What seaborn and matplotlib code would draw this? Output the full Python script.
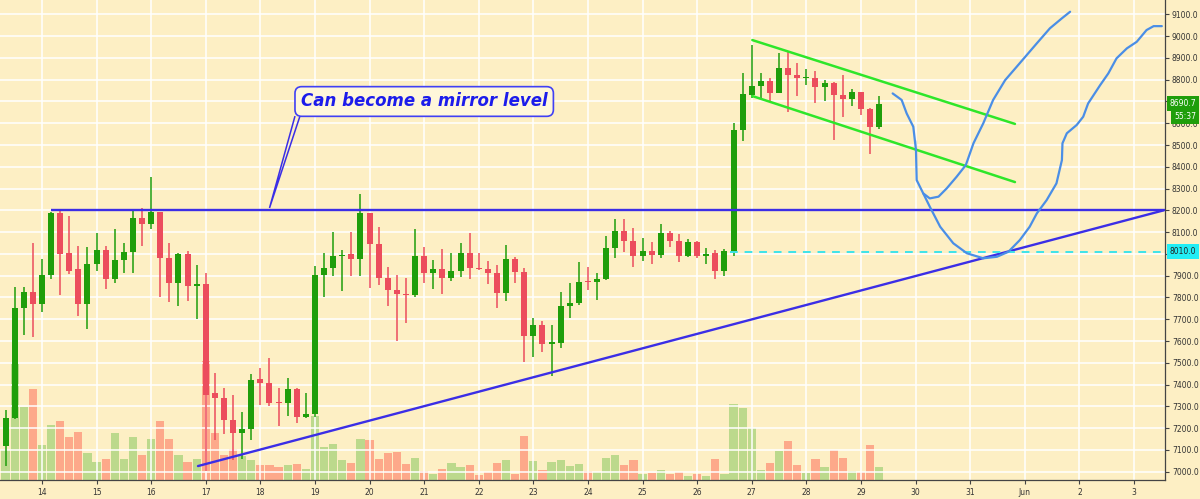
import numpy as np
import pandas as pd
import matplotlib
matplotlib.use('Agg')
import matplotlib.pyplot as plt
import matplotlib.dates as mdates
from matplotlib.patches import Polygon
from matplotlib.transforms import blended_transform_factory
import seaborn as sns

# BTC 4h candles, 13 May 2019 08:00 -> 29 May 2019 08:00
first_candle = '2019-05-13 08:00'
opens = [7118, 7245, 7750, 7825, 7770, 7903, 8189, 8003, 7929, 7770,
         7954, 8018, 7883, 7972, 8009, 8166, 8136, 8191, 7982, 7865,
         7998, 7852, 7862, 7360, 7340, 7237, 7179, 7195, 7424, 7409,
         7320, 7317, 7381, 7252, 7264, 7903, 7934, 7990, 7998, 7975,
         8189, 8045, 7888, 7834, 7816, 7812, 7990, 7914, 7932, 7888,
         7921, 8005, 7935, 7930, 7913, 7819, 7976, 7918, 7623, 7673,
         7585, 7592, 7761, 7773, 7877, 7872, 7885, 8026, 8105, 8059,
         7992, 8012, 7995, 8095, 8060, 7992, 8056, 7992, 8003, 7923,
         8010, 8569, 8729, 8771, 8794, 8740, 8852, 8821, 8806, 8810,
         8765, 8783, 8728, 8711, 8742, 8664, 8584]
highs = [7283, 7849, 7849, 8051, 7975, 8192, 8195, 8174, 8036, 8033,
         8097, 8038, 8114, 8051, 8202, 8212, 8352, 8194, 8051, 8003,
         8015, 7949, 7911, 7454, 7383, 7352, 7273, 7447, 7475, 7521,
         7383, 7429, 7386, 7363, 7944, 8003, 8102, 8018, 8102, 8274,
         8190, 8122, 7941, 7903, 7888, 8113, 8033, 7972, 8021, 8003,
         8049, 8097, 8003, 7968, 7949, 8041, 7985, 7934, 7704, 7691,
         7673, 7824, 7865, 7961, 7941, 7911, 8082, 8159, 8160, 8120,
         8072, 8056, 8137, 8105, 8091, 8069, 8060, 8026, 8018, 8021,
         8602, 8829, 8959, 8832, 8806, 8924, 8933, 8875, 8847, 8841,
         8798, 8790, 8821, 8756, 8745, 8671, 8726]
lows = [7026, 7240, 7627, 7617, 7735, 7885, 7811, 7908, 7715, 7654,
        7923, 7837, 7868, 7914, 7914, 8036, 8114, 7803, 7780, 7761,
        7785, 7701, 7005, 7145, 7173, 7054, 7057, 7145, 7306, 7302,
        7210, 7256, 7222, 7245, 7250, 7803, 7900, 7831, 7898, 7900,
        7842, 7857, 7761, 7601, 7681, 7803, 7868, 7837, 7816, 7877,
        7895, 7885, 7925, 7862, 7753, 7785, 7868, 7505, 7528, 7551,
        7439, 7566, 7704, 7765, 7834, 7789, 7880, 7980, 8007, 7938,
        7968, 7952, 7980, 8030, 7964, 7988, 7982, 7954, 7883, 7900,
        7992, 8520, 8714, 8710, 8699, 8737, 8653, 8725, 8775, 8691,
        8703, 8523, 8630, 8679, 8638, 8459, 8573]
closes = [7248, 7753, 7825, 7770, 7903, 8189, 8001, 7923, 7770, 7954,
          8018, 7883, 7972, 8009, 8166, 8136, 8191, 7982, 7865, 7998,
          7852, 7860, 7352, 7340, 7237, 7179, 7195, 7421, 7409, 7317,
          7315, 7381, 7252, 7264, 7903, 7934, 7992, 7997, 7975, 8189,
          8045, 7888, 7834, 7814, 7812, 7990, 7914, 7932, 7888, 7921,
          8005, 7934, 7930, 7913, 7819, 7976, 7918, 7623, 7673, 7585,
          7595, 7761, 7773, 7872, 7872, 7885, 8026, 8105, 8059, 7992,
          8012, 7995, 8095, 8061, 7992, 8056, 7992, 8000, 7923, 8014,
          8569, 8733, 8771, 8794, 8740, 8852, 8821, 8806, 8811, 8765,
          8783, 8728, 8711, 8742, 8664, 8584, 8690.7]
volumes = [3000, 11600, 7300, 9100, 3500, 5500, 5900, 4300, 4800, 2700,
           1800, 2100, 4700, 2100, 4300, 2500, 4100, 5900, 4100, 2500,
           1800, 2100, 11900, 4700, 2500, 3100, 2400, 2000, 1500, 1500,
           1300, 1500, 1600, 1100, 6400, 3300, 3600, 2000, 1700, 4100,
           4000, 2100, 2700, 2800, 1600, 2200, 900, 600, 1100, 1700,
           1300, 1500, 500, 800, 1700, 2000, 600, 4400, 1900, 1000,
           1800, 2000, 1400, 1600, 900, 800, 2200, 2500, 1500, 2000,
           600, 700, 1000, 600, 800, 400, 600, 400, 2100, 600,
           7600, 7200, 5200, 1000, 1700, 2900, 3900, 1500, 700, 2100,
           1300, 3000, 2200, 900, 800, 3500, 1300]

# drawings (days counted from 14 May 2019 00:00)
mirror_level = 8200.0
mirror_from_day = 0.165
support_days = [2.857, 20.54]
support_prices = [7026, 8200]
channel_days = [13.01, 17.82]
channel_upper = [8982, 8597]
channel_lower = [8725, 8330]
breakout_level = 8010.0
breakout_from_day = 12.6
path_a_days = [15.58, 15.745, 15.837, 15.958, 16.007, 16.007, 16.02, 16.14, 16.26,
               16.42, 16.57, 16.75, 16.92, 17.06, 17.24, 17.42, 17.64, 17.85,
               18.22, 18.46, 18.68, 18.83]
path_a_prices = [8737, 8707, 8645, 8584, 8523, 8431, 8339, 8278, 8255,
                 8263, 8301, 8354, 8408, 8508, 8600, 8707, 8798, 8859,
                 8967, 9036, 9082, 9112]
path_b_days = [16.14, 16.26, 16.45, 16.69, 16.94, 17.24, 17.49, 17.70, 17.91,
               18.09, 18.22, 18.40, 18.58, 18.68, 18.69, 18.77, 18.95, 19.07,
               19.16, 19.38, 19.53, 19.68, 19.87, 20.05, 20.23, 20.36, 20.51]
path_b_prices = [8278, 8217, 8125, 8049, 8003, 7980, 7987, 8010, 8064,
                 8125, 8186, 8247, 8324, 8431, 8508, 8554, 8592, 8630,
                 8691, 8775, 8829, 8898, 8944, 8974, 9028, 9046, 9046]
callout_text = 'Can become a mirror level'
callout_day, callout_price = 7.0, 8700
pointer_days = [4.634, 4.167, 4.725]
pointer_prices = [8633, 8211, 8633]

day_ticks = pd.date_range('2019-05-14', '2019-06-03', freq='D')
day_labels = ['14', '15', '16', '17', '18', '19', '20', '21', '22', '23', '24',
              '25', '26', '27', '28', '29', '30', '31', 'Jun', '2', '3']
price_ticks = np.arange(7000, 9101, 100)
hidden_ticks = [8000, 8700]  # covered by the price boxes
last_price = 8690.7
countdown = '55:37'

bg = '#fdefc4'
up_col = '#1f9e0b'
down_col = '#ec4d5d'
up_vol = '#bcd98c'
down_vol = '#fda98a'
blue = '#3b2ee6'

sns.set_style('whitegrid', {'axes.facecolor': bg, 'grid.color': 'white'})

fig = plt.figure(figsize=(12, 4.99), dpi=100)
fig.patch.set_facecolor(bg)
ax = fig.add_axes([0, 19 / 499, 1165 / 1200, 480 / 499])
ax_vol = ax.twinx()
ax.set_zorder(2)
ax_vol.set_zorder(1)
ax.patch.set_visible(False)
ax_vol.set_facecolor(bg)

t0 = mdates.date2num(pd.Timestamp('2019-05-14'))
times = mdates.date2num(pd.date_range(first_candle, periods=len(opens), freq='4h'))
o = np.array(opens, dtype=float)
c = np.array(closes, dtype=float)
h = np.array(highs, dtype=float)
l = np.array(lows, dtype=float)
up = c >= o

# volume pane
ax_vol.bar(times, volumes, width=0.15, color=np.where(up, up_vol, down_vol), linewidth=0)
ax_vol.set_ylim(0, 48000)
ax_vol.yaxis.set_visible(False)
ax_vol.grid(False)
for s in ax_vol.spines.values():
    s.set_visible(False)

# candles
cols = np.where(up, up_col, down_col)
ax.vlines(times, l, h, colors=cols, linewidth=1.1, zorder=3)
body = np.maximum(np.abs(c - o), 5)
ax.bar(times, body, bottom=np.minimum(o, c), width=0.11, color=cols, linewidth=0, zorder=4)

# drawings
ax.hlines(mirror_level, t0 + mirror_from_day, t0 + 20.6, color=blue, linewidth=1.7, zorder=5)
sns.lineplot(x=t0 + np.array(support_days), y=support_prices, ax=ax, color=blue,
             linewidth=1.7, zorder=5)
sns.lineplot(x=t0 + np.array(channel_days), y=channel_upper, ax=ax, color='#2ee62a',
             linewidth=1.8, zorder=5)
sns.lineplot(x=t0 + np.array(channel_days), y=channel_lower, ax=ax, color='#2ee62a',
             linewidth=1.8, zorder=5)
ax.hlines(breakout_level, t0 + breakout_from_day, t0 + 20.6, color='#3de3e8',
          linewidth=1.4, linestyles=(0, (4, 3.5)), zorder=5)
sns.lineplot(x=t0 + np.array(path_a_days), y=path_a_prices, ax=ax, sort=False,
             color='#4a8ee6', linewidth=1.6, zorder=6)
sns.lineplot(x=t0 + np.array(path_b_days), y=path_b_prices, ax=ax, sort=False,
             color='#4a8ee6', linewidth=1.6, zorder=6)

# callout
ax.add_patch(Polygon(np.column_stack([t0 + np.array(pointer_days), pointer_prices]),
                     closed=False, fill=False, edgecolor=blue, linewidth=1.1, zorder=7))
ax.text(t0 + callout_day, callout_price, callout_text, ha='center', va='center',
        fontsize=12, fontweight='bold', fontstyle='italic', color='#1c1ceb', zorder=8,
        bbox=dict(boxstyle='round,pad=0.35,rounding_size=0.4', fc='#fff7da',
                  ec='#4040f5', lw=1.2))

# axes
ax.set_xlim(t0 - 0.769, t0 + 20.568)
ax.set_ylim(6962, 9166)
ax.set_xticks(mdates.date2num(day_ticks))
ax.set_xticklabels(day_labels)
ax.set_yticks(price_ticks)
ax.set_yticklabels(['' if p in hidden_ticks else f'{p:.1f}' for p in price_ticks])
ax.yaxis.tick_right()
ax.set_xlabel('')
ax.set_ylabel('')
ax.grid(True, color='white', linewidth=1.1)
ax.tick_params(axis='y', right=True, length=3, width=0.8, pad=2, labelsize=5.5,
               colors='#444444', labelcolor='#333333')
ax.tick_params(axis='x', bottom=True, length=3, width=0.8, pad=3, labelsize=5.5,
               colors='#444444', labelcolor='#333333')
for side in ['left', 'top']:
    ax.spines[side].set_visible(False)
for side in ['right', 'bottom']:
    ax.spines[side].set_visible(True)
    ax.spines[side].set_color('#444444')
    ax.spines[side].set_linewidth(0.9)

# price labels on the scale
trans = blended_transform_factory(ax.transAxes, ax.transData)
ax.text(1.004, last_price, f'{last_price:.1f}', transform=trans, ha='left', va='center',
        fontsize=5.5, color='white', zorder=10, clip_on=False,
        bbox=dict(boxstyle='square,pad=0.4', fc=up_col, ec='none'))
ax.text(1.008, 8633, countdown, transform=trans, ha='left', va='center',
        fontsize=5.5, color='white', zorder=10, clip_on=False,
        bbox=dict(boxstyle='square,pad=0.4', fc=up_col, ec='none'))
ax.text(1.004, breakout_level, f'{breakout_level:.1f}', transform=trans, ha='left',
        va='center', fontsize=5.5, color='#222222', zorder=10, clip_on=False,
        bbox=dict(boxstyle='square,pad=0.4', fc='#22eef5', ec='none'))

fig.savefig('out.png', dpi=100, facecolor=bg)
